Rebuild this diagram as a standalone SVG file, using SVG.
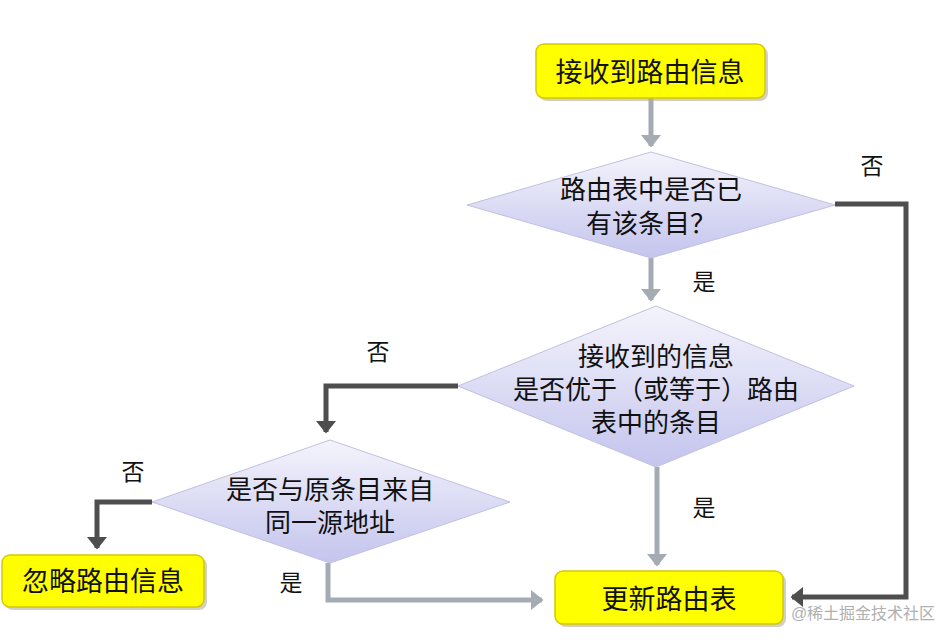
<svg xmlns="http://www.w3.org/2000/svg" width="937" height="640" viewBox="0 0 937 640">
<style>
.t{font-family:"Liberation Sans","Noto Sans CJK SC",sans-serif;fill:#111;text-anchor:middle}
.bt{font-size:27px}
.dt{font-size:26px}
.lb{font-size:23px}
.box{fill:#ffff00;stroke:#d8c800;stroke-width:1.5}
.sh{fill:#b0b0a0;opacity:0.6}
.dia{fill:url(#dg);stroke:#c0c0e0;stroke-width:1}
.lc{fill:none;stroke:#a4abb3;stroke-width:5}
.dc{fill:none;stroke:#4e4e4e;stroke-width:5}
</style>
<defs>
<linearGradient id="dg" x1="0" y1="0" x2="0" y2="1">
<stop offset="0" stop-color="#f4f4fc"/>
<stop offset="1" stop-color="#c4c4ee"/>
</linearGradient>
<marker id="al" markerWidth="4" markerHeight="4" refX="2.2" refY="2" orient="auto" markerUnits="strokeWidth">
<path d="M0,0 L2.5,2 L0,4 Z" fill="#a4abb3"/>
</marker>
<marker id="ad" markerWidth="4" markerHeight="4" refX="2.2" refY="2" orient="auto" markerUnits="strokeWidth">
<path d="M0,0 L2.5,2 L0,4 Z" fill="#4e4e4e"/>
</marker>
</defs>
<g id="connectors">
<path class="lc" d="M651,98 V146" marker-end="url(#al)"/>
<path class="lc" d="M651,258 V300" marker-end="url(#al)"/>
<path class="dc" d="M835,204 H906 V597 H792" marker-end="url(#ad)"/>
<path class="dc" d="M458,386 H326 V432" marker-end="url(#ad)"/>
<path class="lc" d="M657,467 V565" marker-end="url(#al)"/>
<path class="dc" d="M152,502 H97 V548" marker-end="url(#ad)"/>
<path class="lc" d="M328,563 V600 H542" marker-end="url(#al)"/>
<text class="t lb" x="872" y="174">否</text>
<text class="t lb" x="704" y="290">是</text>
<text class="t lb" x="378" y="360">否</text>
<text class="t lb" x="704" y="516">是</text>
<text class="t lb" x="133" y="480">否</text>
<text class="t lb" x="291" y="591">是</text>
</g>
<g id="start">
<rect class="sh" x="539" y="47" width="229" height="54" rx="8"/>
<rect class="box" x="536" y="44" width="229" height="54" rx="8"/>
<text class="t bt" x="650" y="82">接收到路由信息</text>
</g>
<g id="d1">
<polygon class="dia" points="651,152 835,205 651,258 467,205"/>
<text class="t dt"><tspan x="651" y="199">路由表中是否已</tspan><tspan x="651" y="233">有该条目？</tspan></text>
</g>
<g id="d2">
<polygon class="dia" points="656,306 854,386 656,467 458,386"/>
<text class="t dt"><tspan x="656" y="366">接收到的信息</tspan><tspan x="656" y="399">是否优于（或等于）路由</tspan><tspan x="656" y="432">表中的条目</tspan></text>
</g>
<g id="d3">
<polygon class="dia" points="330,440 510,502 330,563 152,502"/>
<text class="t dt"><tspan x="330" y="499">是否与原条目来自</tspan><tspan x="330" y="532">同一源地址</tspan></text>
</g>
<g id="ignore">
<rect class="sh" x="5" y="558" width="202" height="52" rx="8"/>
<rect class="box" x="2" y="555" width="202" height="52" rx="8"/>
<text class="t bt" x="103" y="591">忽略路由信息</text>
</g>
<g id="update">
<rect class="sh" x="558" y="574" width="228" height="53" rx="8"/>
<rect class="box" x="555" y="571" width="228" height="53" rx="8"/>
<text class="t bt" x="669" y="609">更新路由表</text>
</g>
<text x="863" y="619" style="font-family:'Liberation Sans','Noto Sans CJK SC',sans-serif;font-size:16px;fill:#b0b0b0;text-anchor:middle">@稀土掘金技术社区</text>
</svg>
